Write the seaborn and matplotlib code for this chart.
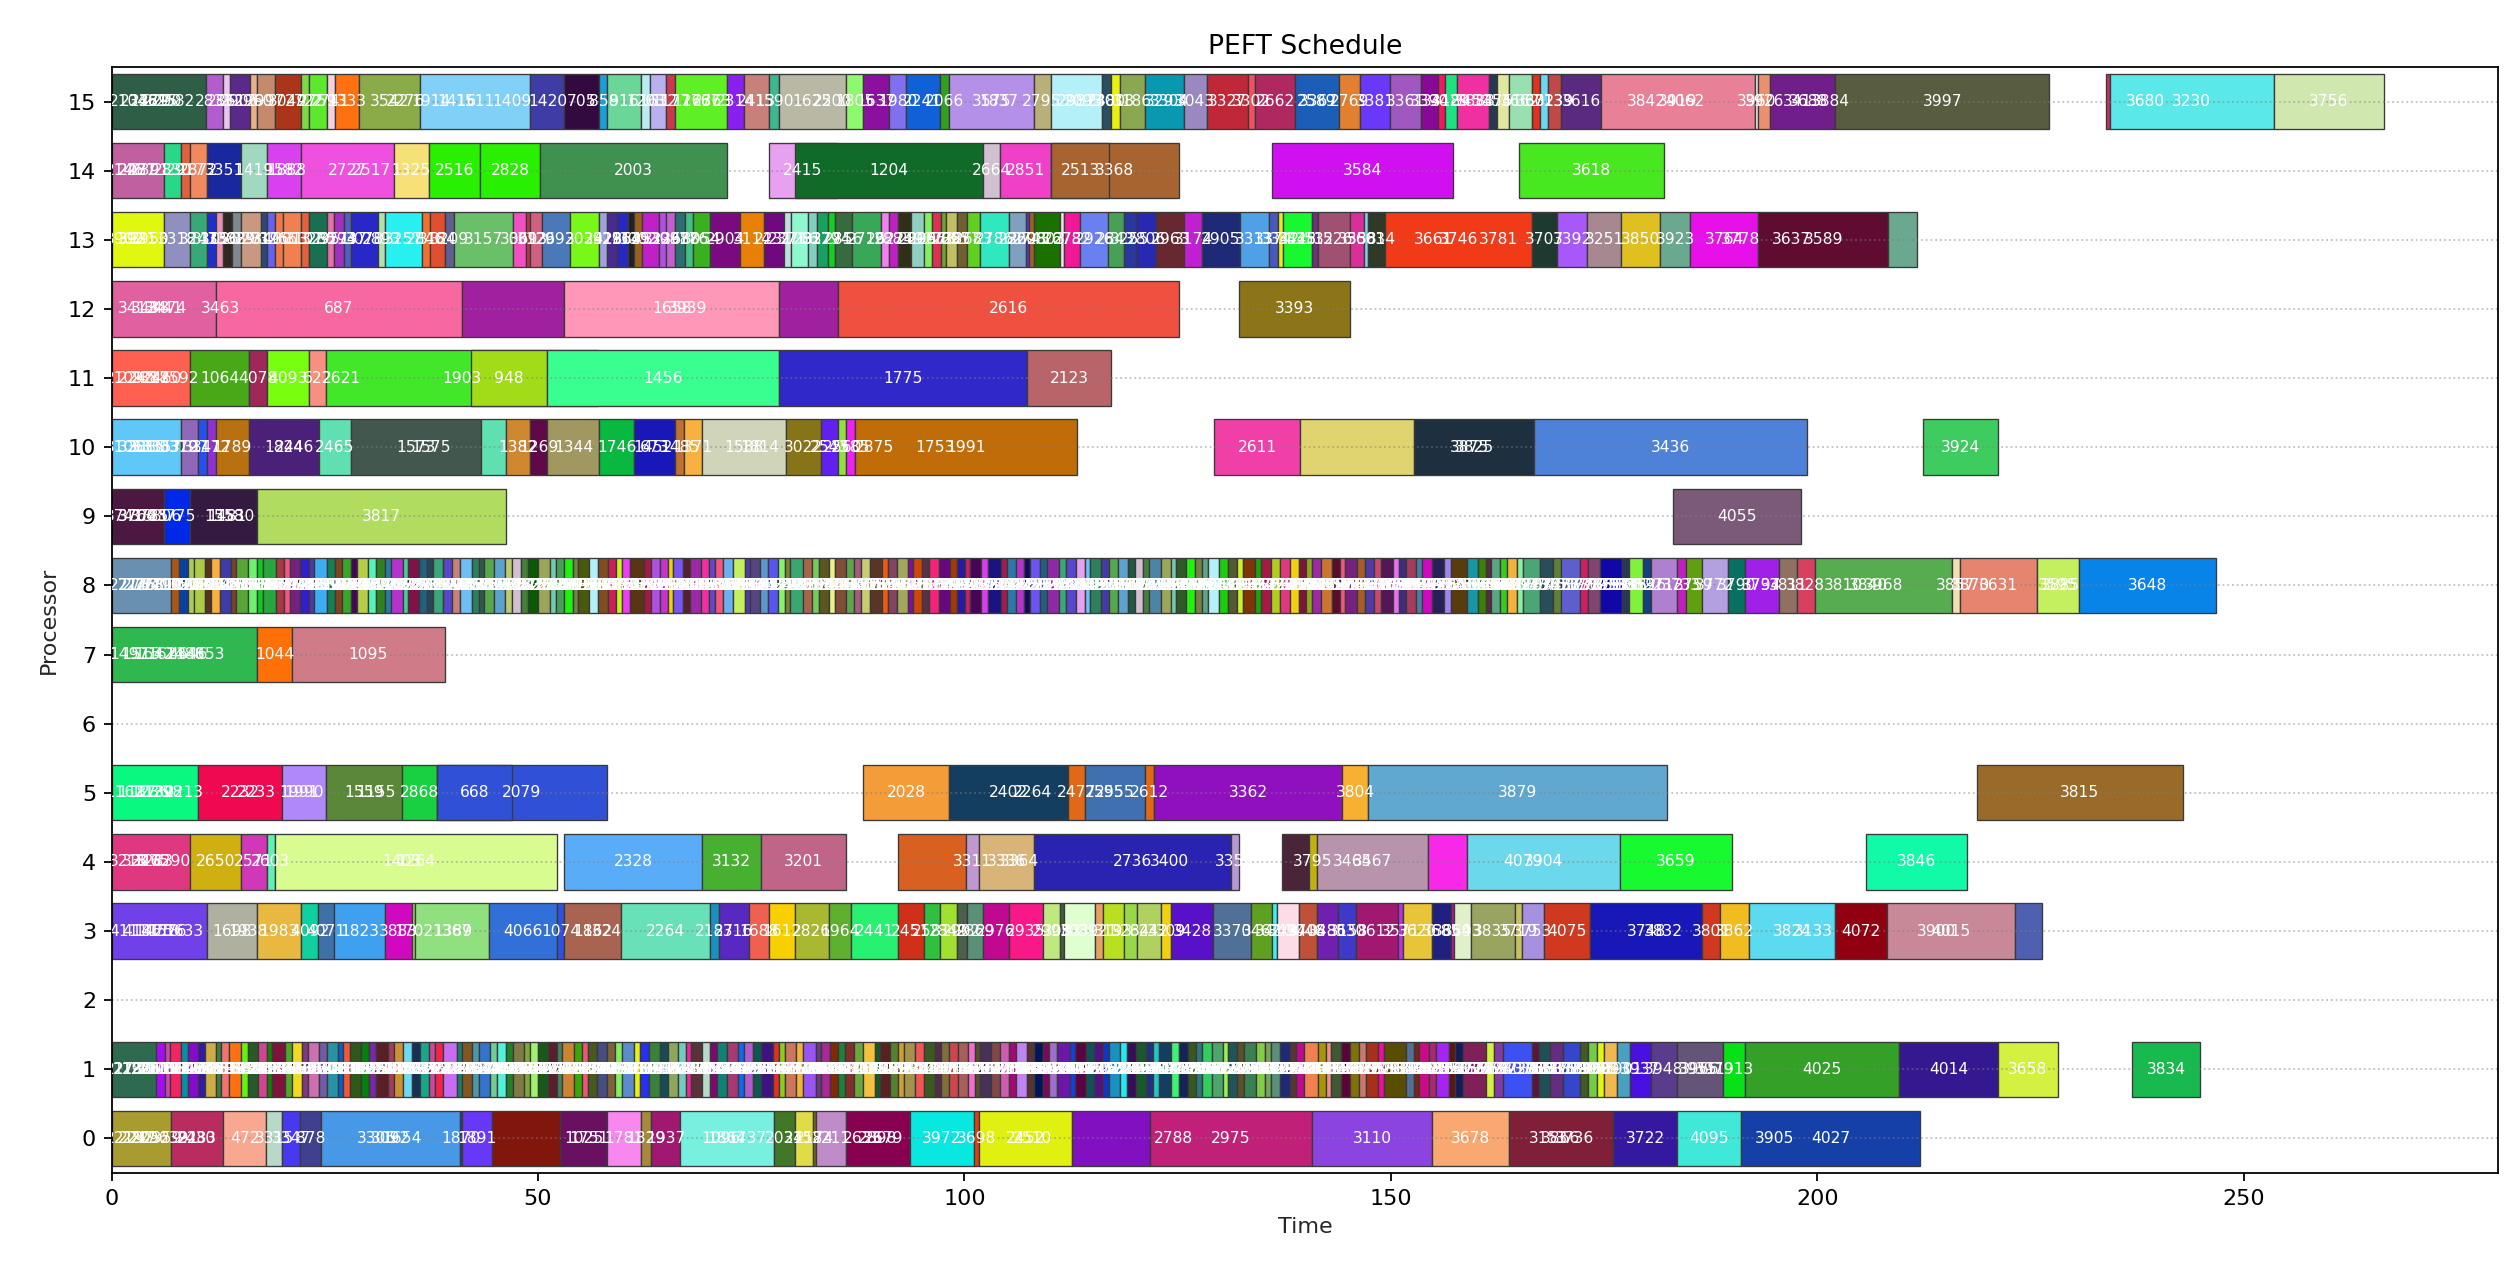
import colorsys

import numpy as np
import seaborn as sns
import matplotlib
matplotlib.use("Agg")
import matplotlib.pyplot as plt

sns.set_style("ticks", {"axes.edgecolor": "black", "xtick.color": "black",
                        "ytick.color": "black", "text.color": "black"})

# ---- schedule data: (task id, start, finish); zero length = label only,
#      ids starting with "_" are drawn without a label ----
P15 = [("2615", 0, 11.1), ("2833", 11.1, 13.1), ("2861", 13.1, 13.9), ("2906", 13.9, 16.2),
       ("2960", 16.2, 17.1), ("2997", 17.1, 19.1), ("3049", 19.1, 22.2), ("2722", 22.2, 23.1),
       ("2759", 23.1, 25.2), ("2741", 25.2, 26.2), ("1333", 26.2, 29.0), ("3542", 29.0, 36.1),
       ("1511", 36.1, 49.1), ("1420", 49.1, 53.1), ("705", 53.1, 57.2), ("858", 57.2, 58.1),
       ("916", 58.1, 62.1), ("1203", 62.1, 63.1), ("1632", 63.1, 65.0), ("1177", 65.0, 66.1),
       ("1767", 66.1, 72.2), ("2314", 72.2, 74.2), ("2413", 74.2, 77.1), ("1590", 77.1, 78.2),
       ("1625", 78.2, 86.1), ("1805", 86.1, 88.1), ("1637", 88.1, 91.2), ("1980", 91.2, 93.1),
       ("2241", 93.1, 97.1), ("2066", 97.1, 98.2), ("3575", 98.2, 108.1), ("2795", 108.1, 110.1),
       ("2987", 110.1, 116.1), ("2480", 116.1, 117.2), ("3018", 117.2, 118.2), ("3186", 118.2, 121.2),
       ("3293", 121.2, 125.8), ("3043", 125.8, 128.4), ("3327", 128.4, 133.2), ("3302", 133.2, 134.1),
       ("2662", 134.1, 138.8), ("2589", 138.8, 143.9), ("2769", 143.9, 146.4), ("3381", 146.4, 149.9),
       ("3361", 149.9, 153.5), ("3390", 153.5, 155.5), ("3418", 155.5, 156.4), ("3429", 156.4, 157.7),
       ("3451", 157.7, 161.5), ("3475", 161.5, 162.5), ("3541", 162.5, 163.8), ("3662", 163.8, 166.5),
       ("3602", 166.5, 167.5), ("3713", 167.5, 168.4), ("3139", 168.4, 170.0), ("3616", 170.0, 174.6),
       ("3919", 174.6, 192.7), ("3960", 192.7, 193.1), ("3926", 193.1, 194.5), ("3413", 194.5, 202.1),
       ("3997", 202.1, 227.2), ("_3660", 233.8, 234.3), ("3230", 234.3, 253.5), ("3756", 253.5, 266.5),
       ("2104", 2.0, 2.0), ("2338", 3.2, 3.2), ("2479", 4.5, 4.5), ("2290", 6.0, 6.0), ("2582", 7.5, 7.5),
       ("2276", 34.5, 34.5), ("1914", 37.5, 37.5), ("1416", 40.5, 40.5), ("1409", 47.0, 47.0),
       ("1267", 68.0, 68.0), ("2363", 70.5, 70.5), ("2200", 84.5, 84.5), ("1837", 104.0, 104.0),
       ("2093", 114.0, 114.0), ("3304", 124.0, 124.0), ("3367", 141.5, 141.5), ("3383", 160.0, 160.0),
       ("3842", 180.0, 180.0), ("4062", 184.5, 184.5), ("3688", 199.0, 199.0), ("3884", 201.5, 201.5),
       ("3680", 238.5, 238.5)]

P14 = [("2471", 0, 6.1), ("2830", 6.1, 8.1), ("2917", 8.1, 9.2), ("2872", 9.2, 11.2),
       ("3351", 11.2, 15.2), ("1419", 15.2, 18.2), ("1582", 18.2, 22.2), ("2727", 22.2, 33.1),
       ("1325", 33.1, 37.2), ("2516", 37.2, 43.2), ("2828", 43.2, 50.2), ("2003", 50.2, 72.2),
       ("2415", 77.1, 85.0), ("1204", 80.1, 102.2), ("2664", 102.2, 104.2), ("2851", 104.2, 110.1),
       ("3368", 110.1, 125.1), ("2513", 110.1, 117.0), ("3584", 136.1, 157.3), ("3618", 165.0, 182.0),
       ("2146", 1.5, 1.5), ("2287", 3.0, 3.0), ("2391", 4.5, 4.5), ("1888", 20.5, 20.5),
       ("2517", 30.5, 30.5)]

P13_EDGES = [0, 6.1, 9.2, 11.2, 12.2, 13.1, 14.1, 15.2, 17.5, 18.2,
             19.1, 20.1, 22.2, 23.1, 25.2, 26.1, 27.2, 28.1, 31.2, 32.1,
             36.4, 37.3, 39.1, 40.1, 47.1, 48.6, 49.1, 50.5, 53.7, 57.2,
             58.1, 59.3, 60.6, 61.3, 62.2, 64.2, 65.0, 66.1, 67.2, 68.2,
             70.2, 73.7, 76.5, 78.8, 79.7, 81.6, 82.7, 84.0, 84.8, 86.8,
             90.2, 91.2, 92.2, 93.7, 95.2, 96.2, 97.3, 97.8, 99.1, 100.3,
             101.8, 105.2, 107.2, 107.6, 108.1, 111.2, 111.7, 113.6, 116.8, 118.7,
             120.1, 122.5, 125.8, 127.8, 132.3, 135.7, 136.8, 137.4, 140.8, 141.4,
             145.2, 146.9, 147.3, 149.3, 166.5, 169.5, 173.0, 177.0, 181.6]
P13_IDS = ["3921", "3318", "3247", "3102", "3156", "3388", "3029", "3271", "3340", "3195",
           "3266", "3013", "3107", "3285", "2951", "3173", "2947", "3078", "2893", "3257",
           "2846", "3184", "3209", "3157", "3061", "3093", "3126", "2992", "3034", "2918",
           "3216", "2964", "3145", "3002", "2939", "3236", "3087", "2988", "3176", "3054",
           "2904", "3114", "2231", "2371", "2766", "2812", "3377", "2794", "2856", "2716",
           "2922", "2883", "2749", "2809", "2957", "2663", "2738", "2895", "2577", "2683",
           "2786", "2820", "2698", "2743", "2803", "2678", "2732", "2926", "2843", "3255",
           "2806", "2963", "3174", "2905", "3313", "3374", "3342", "3425", "3512", "3526",
           "3558", "3603", "3614", "3746", "3707", "3392", "3251", "3850"]
P13_TAIL = [("3923", 181.6, 185.1), ("3764", 185.1, 193.1), ("3589", 193.1, 208.3),
            ("_3944", 208.3, 211.7),
            ("3902", 1.5, 1.5), ("3931", 3.0, 3.0), ("3950", 4.5, 4.5), ("3348", 139.0, 139.0),
            ("3661", 155.0, 155.0), ("3781", 162.6, 162.6), ("3778", 191.0, 191.0),
            ("3637", 197.0, 197.0)]

P12 = [("3441", 0, 12.2), ("687", 12.2, 41.1), ("_1613", 41.1, 53.1), ("1658", 53.1, 78.2),
       ("_1613b", 78.2, 85.2), ("2616", 85.2, 125.1), ("3393", 132.2, 145.2),
       ("3412", 3.0, 3.0), ("3438", 4.5, 4.5), ("3474", 6.5, 6.5), ("3463", 12.8, 12.8),
       ("3939", 67.5, 67.5)]

P11 = [("2387", 0, 9.2), ("1064", 9.2, 16.1), ("4078", 16.1, 18.2), ("4093", 18.2, 23.1),
       ("622", 23.1, 25.1), ("1903", 25.1, 57.0), ("948", 42.1, 51.1), ("1456", 51.1, 78.2),
       ("1775", 78.2, 107.3), ("2123", 107.3, 117.2),
       ("2109", 1.5, 1.5), ("2245", 3.0, 3.0), ("2318", 4.5, 4.5), ("2460", 6.0, 6.0),
       ("2592", 8.0, 8.0), ("2621", 27.0, 27.0)]

P10 = [("3015", 0, 8.1), ("3127", 8.1, 10.1), ("3141", 10.1, 11.2), ("3172", 11.2, 12.2),
       ("1789", 12.2, 16.1), ("1824", 16.1, 24.3), ("2465", 24.3, 28.1), ("1573", 28.1, 43.3),
       ("_2465", 43.3, 46.2), ("1382", 46.2, 49.1), ("1269", 49.1, 51.1), ("1344", 51.1, 57.2),
       ("1746", 57.2, 61.2), ("673", 61.2, 66.1), ("1485", 66.1, 67.1), ("1371", 67.1, 69.2),
       ("1588", 69.2, 79.1), ("3022", 79.1, 83.2), ("2543", 83.2, 85.2), ("2560", 85.2, 86.1),
       ("2585", 86.1, 87.2), ("1991", 87.2, 113.2), ("2611", 129.3, 139.3), ("_3720", 139.3, 152.7),
       ("3825", 152.7, 166.8), ("3436", 166.8, 198.8), ("3924", 212.4, 221.2),
       ("3106", 1.5, 1.5), ("3288", 3.0, 3.0), ("3330", 4.5, 4.5), ("3357", 6.0, 6.0),
       ("3379", 8.0, 8.0), ("2446", 21.5, 21.5), ("1575", 37.5, 37.5), ("1452", 63.5, 63.5),
       ("1814", 76.0, 76.0), ("2875", 89.5, 89.5), ("1753", 96.5, 96.5), ("3875", 159.2, 159.2)]

P9 = [("3704", 0, 6.1), ("3775", 6.1, 9.2), ("1558", 9.2, 17.1), ("3817", 17.1, 46.2),
      ("4055", 183.1, 198.1),
      ("3741", 1.5, 1.5), ("3760", 3.0, 3.0), ("3785", 4.5, 4.5), ("3806", 6.0, 6.0),
      ("1481", 13.5, 13.5), ("1530", 14.5, 14.5)]

P8_HEAD = [("2734", 0, 7.0), ("2712", 2.0, 2.0), ("2745", 3.0, 3.0), ("2768", 4.0, 4.0),
           ("2781", 5.0, 5.0), ("2799", 6.0, 6.0)]
P8_SLIVER_START = 7.0
P8_SLIVER_DUR = [0.9, 1.1, 0.7, 1.2, 0.8, 1.0, 1.3, 0.6, 1.4, 1.0,
                 0.8, 1.5, 0.9, 0.7, 1.2, 1.0, 0.6, 1.6, 0.9, 0.8,
                 1.1, 0.7, 1.3, 0.9, 1.0, 0.8, 1.4, 0.6, 1.2, 1.0,
                 0.7, 1.2, 1.0, 0.9, 1.5, 0.8, 0.6, 1.1, 1.3, 0.9,
                 1.0, 0.8, 1.2, 1.4, 0.7, 0.9, 1.1, 0.6, 1.3, 1.0,
                 1.2, 0.9, 0.7, 1.0, 1.6, 0.8, 1.1, 0.9, 0.6, 1.2,
                 0.8, 1.3, 1.0, 0.7, 0.9, 1.2, 1.4, 0.6, 1.1, 1.0,
                 1.1, 0.9, 0.6, 1.5, 1.0, 0.8, 1.2, 0.7, 1.3, 0.9,
                 0.9, 1.0, 1.4, 0.7, 1.1, 1.3, 0.6, 1.0, 0.8, 1.2,
                 1.3, 0.8, 1.0, 0.6, 1.2, 0.9, 1.5, 0.7, 1.0, 1.0,
                 0.7, 1.1, 0.9, 1.4, 0.8, 1.2, 1.0, 0.6, 1.3, 1.0,
                 1.0, 1.2, 0.8, 0.9, 0.7, 1.5, 1.1, 0.6, 1.2, 1.0,
                 0.9, 0.6, 1.3, 1.1, 1.0, 0.8, 1.4, 0.7, 1.2, 1.0,
                 1.2, 1.0, 0.8, 0.7, 1.1, 1.3, 0.9, 0.6, 1.4, 1.0,
                 1.0, 0.8, 1.5, 0.6, 0.9, 1.2, 0.7, 1.1, 1.4, 0.8,
                 1.9, 1.3, 0.9, 0.6, 1.1, 0.8, 1.2, 0.7, 2.0, 1.5,
                 1.0, 2.2, 0.9, 1.4, 2.6, 0.8, 1.7, 0.9]
P8_SLIVER_IDS = """
1102 1187 1243 1298 1335 1371 1420 1466 1502 1549 1583 1617 1652 1694 1731 1768 1802 1839 1876 1911
1947 1985 2018 2054 2091 2127 2163 2198 2236 2271 2305 2342 2378 2413 2449 2486 2520 2557 2593 2628
2664 2701 2735 2772 2808 2843 2879 2916 2950 2987 3021 3058 3094 3129 3165 3202 3236 3273 3309 3344
3380 3417 3451 3488 3524 3559 3595 3632 3666 3703 1124 1159 1196 1232 1267 1303 1340 1374 1411 1447
1482 1518 1555 1589 1626 1662 1697 1733 1770 1804 1841 1877 1912 1948 1985 2019 2056 2092 2127 2163
2200 2234 2271 2307 2342 2378 2415 2449 2486 2522 2557 2593 2630 2664 2701 2737 2772 2808 2845 2879
2916 2952 2987 3023 3060 3094 3131 3167 3202 3238 3275 3309 3346 3382 3417 3453 3490 3524 3561 3597
3632 3668 3705 3739 3776 3812 3847 3883 3920 3954 3610 3622 3641 3655 3672 3688 3699 3714 3727 3745
3751 3763 3778 3786 3797 3805 3819 3826 3838 3849
""".split()
# zero-length tasks that sit at the start of each sliver
P8_ZERO_IDS = """
1109 1151 1208 1254 1316 1352 1398 1437 1488 1531 1566 1604 1639 1677 1712 1749 1785 1821 1858 1894
1929 1966 2003 2037 2074 2110 2145 2181 2217 2253 2289 2324 2360 2396 2431 2468 2503 2539 2575 2611
2646 2682 2718 2754 2790 2826 2861 2897 2933 2969 3004 3040 3076 3112 3147 3183 3219 3255 3291 3327
3362 3398 3434 3470 3506 3541 3577 3613 3649 3685 1141 1177 1213 1249 1285 1321 1357 1392 1428 1464
1500 1536 1572 1608 1644 1680 1715 1751 1787 1823 1859 1895 1930 1966 2002 2038 2074 2109 2145 2181
2217 2253 2289 2324 2360 2396 2432 2468 2503 2539 2575 2611 2647 2683 2718 2754 2790 2826 2862 2897
2933 2969 3005 3041 3077 3112 3148 3184 3220 3256 3291 3327 3363 3399 3435 3470 3506 3542 3578 3614
3650 3685 3721 3757 3793 3829 3864 3900 3936 3972 3605 3617 3633 3648 3664 3680 3693 3707 3720 3736
3748 3757 3770 3782 3791 3801 3815 3822 3833 3844
""".split()
P8_TAIL = [("3712", 180.5, 183.6), ("3733", 183.6, 184.6), ("3759", 184.6, 186.5),
           ("3772", 186.5, 189.5), ("3790", 189.5, 191.5), ("3794", 191.5, 195.5),
           ("3811", 195.5, 197.6), ("3828", 197.6, 199.7), ("3968", 199.7, 215.8),
           ("3857", 215.8, 216.7), ("3631", 216.7, 225.8), ("3595", 225.8, 230.7),
           ("3648", 230.7, 246.8),
           ("3737", 193.5, 193.5), ("3810", 203.0, 203.0), ("3840", 206.0, 206.0),
           ("3870", 218.0, 218.0), ("3885", 228.5, 228.5)]

P7 = [("1488", 0, 17.1), ("1044", 17.1, 21.1), ("1095", 21.1, 39.1),
      ("1497", 2.0, 2.0), ("1515", 3.5, 3.5), ("1542", 5.0, 5.0), ("1623", 6.5, 6.5),
      ("4646", 9.0, 9.0), ("4653", 11.0, 11.0)]

P6 = []

P5 = [("1130", 0, 10.1), ("2232", 10.1, 20.0), ("1990", 20.0, 25.1), ("1559", 25.1, 34.1),
      ("2868", 34.1, 38.1), ("2079", 38.1, 58.1), ("668", 38.1, 47.0), ("2028", 88.1, 98.2),
      ("2402", 98.2, 112.1), ("2477", 112.1, 114.1), ("2555", 114.1, 121.2), ("2612", 121.2, 122.2),
      ("3362", 122.2, 144.3), ("3804", 144.3, 147.3), ("3879", 147.3, 182.4), ("3815", 218.7, 242.9),
      ("1162", 1.5, 1.5), ("1187", 3.0, 3.0), ("1236", 4.5, 4.5), ("1298", 6.0, 6.0),
      ("2213", 8.5, 8.5), ("2233", 17.0, 17.0), ("1991", 22.0, 22.0), ("1155", 31.0, 31.0),
      ("2264", 108.0, 108.0), ("2595", 116.5, 116.5)]

P4 = [("3275", 0, 9.2), ("2650", 9.2, 15.2), ("2571", 15.2, 18.2), ("2603", 18.2, 19.1),
      ("1264", 19.1, 52.2), ("2328", 53.1, 69.2), ("3132", 69.2, 76.2), ("3201", 76.2, 86.1),
      ("_3297", 92.2, 100.2), ("3311", 100.2, 101.7), ("3336", 101.7, 108.1), ("2736", 108.1, 131.2),
      ("3352", 131.2, 132.2), ("_3780", 137.2, 140.4), ("3795", 140.4, 141.3), ("3467", 141.3, 154.3),
      ("_3871", 154.3, 158.9), ("3904", 158.9, 176.9), ("3659", 176.9, 190.0), ("3846", 205.7, 217.6),
      ("3218", 2.0, 2.0), ("3246", 3.5, 3.5), ("3283", 5.0, 5.0), ("3290", 7.0, 7.0),
      ("1403", 34.0, 34.0), ("3364", 106.5, 106.5), ("3400", 124.0, 124.0),
      ("3465", 145.5, 145.5), ("4079", 165.5, 165.5)]

P3_EDGES = [0, 11.2, 17.1, 22.2, 24.2, 26.1, 32.1, 35.2, 35.6, 44.2,
            52.2, 53.1, 59.7, 70.2, 71.2, 74.7, 77.1, 80.1, 84.1, 86.7,
            92.2, 95.2, 97.1, 99.1, 100.3, 102.2, 105.2, 109.2, 111.2, 111.7,
            115.3, 116.2, 118.7, 120.2, 123.1, 124.2, 129.2, 133.6, 136.1, 136.7,
            139.2, 141.3, 143.8, 145.9, 150.8, 151.4, 154.8, 157.1, 157.4, 159.4,
            164.5, 165.4, 167.9, 173.4, 186.5, 188.6, 192.0, 202.1, 208.2]
P3_IDS = ["4118", "1698", "1983", "4092", "4071", "1823", "3883", "1702", "1367", "4066",
          "1074", "1862", "2264", "2187", "2316", "1688", "1612", "2826", "1964", "2441",
          "2451", "2581", "2849", "2902", "2869", "2976", "2935", "2995", "3083", "3039",
          "3121", "3193", "3264", "3242", "3309", "3428", "3370", "3462", "3410", "3497",
          "3408", "3486", "3530", "3612", "3571", "3620", "3685", "3654", "3693", "3835",
          "3719", "3753", "4075", "3748", "3801", "3862", "3824", "4072"]
P3_TAIL = [("4015", 208.2, 223.2), ("_4101", 223.2, 226.3),
           ("4111", 2.0, 2.0), ("4136", 3.5, 3.5), ("1425", 5.0, 5.0), ("1576", 6.5, 6.5),
           ("1633", 8.5, 8.5), ("1938", 16.0, 16.0), ("1389", 40.0, 40.0), ("1324", 57.5, 57.5),
           ("3046", 140.0, 140.0), ("3158", 145.0, 145.0), ("3832", 182.0, 182.0),
           ("3133", 199.5, 199.5), ("3900", 214.0, 214.0)]

P2 = []

P1_HEAD = [("2188", 0, 5.2), ("2173", 1.5, 1.5), ("2190", 2.5, 2.5), ("2226", 3.5, 3.5),
           ("2251", 4.5, 4.5)]
P1_SLIVER_START = 5.2
P1_SLIVER_DUR = [1.0, 0.7, 1.2, 0.9, 1.1, 0.8, 1.3, 0.6, 1.0, 1.4,
                 0.8, 1.2, 1.0, 0.6, 1.5, 0.9, 1.1, 0.7, 1.3, 0.9,
                 1.3, 0.6, 0.9, 1.2, 1.0, 0.8, 1.4, 0.7, 1.1, 1.0,
                 0.9, 1.1, 0.7, 1.0, 1.6, 0.6, 1.2, 0.8, 1.3, 0.8,
                 1.1, 0.8, 1.3, 0.7, 0.9, 1.2, 1.0, 0.6, 1.4, 1.0,
                 0.7, 1.0, 1.2, 0.9, 0.8, 1.5, 0.6, 1.1, 1.3, 0.9,
                 1.2, 0.9, 0.6, 1.3, 1.0, 0.8, 1.1, 1.4, 0.7, 1.0,
                 1.0, 1.3, 0.8, 0.7, 1.2, 0.9, 1.5, 0.6, 1.0, 1.0,
                 0.8, 1.1, 1.0, 1.4, 0.6, 1.2, 0.9, 0.7, 1.3, 1.0,
                 1.4, 0.7, 0.9, 1.0, 1.2, 0.8, 0.6, 1.3, 1.1, 1.0,
                 0.9, 1.2, 0.8, 1.1, 0.7, 1.0, 1.5, 0.6, 1.2, 1.0,
                 1.1, 0.6, 1.3, 0.9, 1.0, 1.2, 0.8, 0.7, 1.4, 1.0,
                 1.0, 0.9, 0.7, 1.2, 1.3, 0.6, 1.1, 0.8, 1.4, 1.0,
                 0.8, 1.0, 1.2, 0.7, 0.9, 1.6, 1.0, 0.6, 1.1, 1.1,
                 1.1, 0.8, 1.4, 0.7, 2.6, 0.9, 0.6, 1.2, 0.8, 1.5,
                 0.7, 1.0, 2.7, 0.9, 1.1, 3.4, 0.8, 1.2, 1.6, 2.0,
                 0.9, 1.1, 0.8]
P1_SLIVER_IDS = """
1019 1058 1084 1127 1163 1192 1238 1261 1309 1333 1379 1405 1448 1481 1516 1557 1594 1621 1668 1692
1737 1763 1809 1845 1871 1917 1940 1982 2013 2059 2085 2122 2168 2194 2239 2266 2301 2347 2373 2418
2444 2481 2526 2552 2599 2625 2660 2706 2733 2777 2804 2840 2886 2911 2957 2983 3018 3064 3091 3135
3162 3198 3244 3270 3315 3341 3376 3422 3449 3493 3520 3556 3602 3628 3673 3699 3734 3781 3807 3851
1041 1076 1112 1149 1185 1220 1256 1293 1327 1364 1400 1435 1471 1508 1542 1579 1615 1650 1686 1723
1757 1794 1830 1865 1901 1938 1972 2009 2045 2080 2116 2153 2187 2224 2260 2295 2331 2368 2402 2439
2475 2510 2546 2583 2617 2654 2690 2725 2761 2798 2832 2869 2905 2940 2976 3013 3047 3084 3120 3155
3191 3228 3262 3299 3335 3370 3406 3443 3477 3514 3550 3585 3621 3658 3692 3729 3765 3800 3836 3873
3895 3908 3921 3934 3947 3959 3971 3984 3996 4008
""".split()
P1_ZERO_IDS = """
1028 1066 1097 1139 1171 1207 1245 1279 1316 1352 1388 1421 1459 1494 1530 1566 1603 1639 1675 1710
1746 1781 1818 1853 1889 1925 1961 1996 2032 2068 2103 2139 2175 2211 2246 2282 2318 2354 2389 2425
2461 2497 2532 2568 2604 2640 2675 2711 2747 2783 2818 2854 2890 2926 2961 2997 3033 3069 3104 3140
3176 3212 3247 3283 3319 3355 3390 3426 3462 3498 3533 3569 3605 3641 3676 3712 3748 3784 3819 3855
1048 1084 1120 1156 1191 1227 1263 1299 1334 1370 1406 1442 1477 1513 1549 1585 1620 1656 1692 1728
1763 1799 1835 1871 1906 1942 1978 2014 2049 2085 2121 2157 2192 2228 2264 2300 2335 2371 2407 2443
2478 2514 2550 2586 2621 2657 2693 2729 2764 2800 2836 2872 2907 2943 2979 3015 3050 3086 3122 3158
3193 3229 3265 3301 3336 3372 3408 3444 3479 3515 3551 3587 3622 3658 3694 3730 3765 3801 3837 3873
3890 3903 3916 3929 3942 3954 3966 3979 3991 4003
""".split()
P1_TAIL = [("3893", 175.0, 176.5), ("3901", 176.5, 178.0), ("3937", 178.0, 180.5),
           ("3948", 180.5, 183.5), ("3966", 183.5, 189.0), ("1913", 189.0, 191.5),
           ("4025", 191.5, 209.6), ("4014", 209.6, 221.2), ("3658", 221.2, 228.2),
           ("3834", 236.9, 244.9),
           ("3955", 186.0, 186.0), ("3979", 188.0, 188.0)]

P0 = [("2205", 0, 7.0), ("2283", 7.0, 13.1), ("472", 13.1, 18.1), ("3315", 18.1, 20.0),
      ("3347", 20.0, 22.1), ("878", 22.1, 24.6), ("3092", 24.6, 40.8), ("1870", 40.8, 41.1),
      ("1891", 41.1, 44.6), ("_1904", 44.6, 52.6), ("1025", 52.6, 58.1), ("1781", 58.1, 62.1),
      ("1829", 62.1, 63.2), ("1937", 63.2, 66.7), ("1864", 66.7, 77.7), ("2034", 77.7, 80.1),
      ("2158", 80.1, 82.2), ("2174", 82.2, 82.6), ("2211", 82.6, 86.1), ("2898", 86.1, 93.6),
      ("3972", 93.6, 101.1), ("3698", 101.1, 101.7), ("2452", 101.7, 112.6), ("_2711", 112.6, 121.7),
      ("2975", 121.7, 140.8), ("3110", 140.8, 154.8), ("3678", 154.8, 163.8), ("3866", 163.8, 176.0),
      ("3722", 176.0, 183.6), ("4095", 183.6, 191.0), ("4027", 191.0, 212.1),
      ("2219", 1.5, 1.5), ("2247", 3.0, 3.0), ("2296", 4.5, 4.5), ("2359", 6.0, 6.0),
      ("2391", 8.0, 8.0), ("2430", 10.0, 10.0), ("3306", 31.0, 31.0), ("1654", 34.0, 34.0),
      ("1751", 56.0, 56.0), ("1096", 71.5, 71.5), ("1737", 74.5, 74.5), ("2633", 88.0, 88.0),
      ("2679", 90.5, 90.5), ("2510", 108.0, 108.0), ("2788", 124.5, 124.5),
      ("3153", 168.5, 168.5), ("3736", 171.5, 171.5), ("3905", 195.0, 195.0)]

# ---- colours (style, kept apart from the data) ----
P13_COLORS = ["#e0f810", "#9090c0", "#38a878", "#2030d0", "#e890b8", "#302820", "#808890", "#c89880",
              "#2a4a7a", "#6a60f0", "#f07848", "#f08050", "#e06040", "#187050", "#e870a8", "#a030c0",
              "#5060c0", "#2828c8", "#b0e0b0", "#28f0f0", "#f07030", "#e05030", "#606090", "#6ac068",
              "#f050c0", "#c03050", "#d06080", "#4a78b8", "#78f818", "#a0a0e0", "#4a2a90", "#2828c0",
              "#202020", "#9a6020", "#c020c8", "#b050e0", "#c060d0", "#2a7070", "#40c080", "#38b020",
              "#7a0a80", "#e88008", "#700880", "#c0e0e0", "#90f8d0", "#80d0c0", "#18a060", "#10d020",
              "#386a40", "#38a858", "#f080f0", "#c020c0", "#303018", "#90d0c0", "#80f060", "#e03050",
              "#70a030", "#c0c060", "#706030", "#60d020", "#30e8c0", "#80a0c0", "#6030e0", "#a06020",
              "#1a7000", "#e8e8e8", "#f01898", "#6a80f0", "#48a058", "#2838a0", "#2828b0", "#682830",
              "#c020d0", "#1e2a78", "#50a0e8", "#4858c0", "#e0f010", "#18f830", "#703080", "#a05070",
              "#d83098", "#80d0f0", "#303828", "#f03a18", "#1e3a30", "#a858f8", "#a88890", "#e0c020"]
P3_COLORS = ["#7040e8", "#b0b0a0", "#e8b840", "#10d0a0", "#4070a8", "#40a0f0", "#d008c0", "#a0d060",
             "#90e080", "#3070d8", "#3050e0", "#a86450", "#68e0b8", "#1890c0", "#5828c0", "#f06050",
             "#f8d000", "#a8b830", "#60b030", "#28f070", "#d03018", "#30c040", "#a0e030", "#4a6048",
             "#5a9078", "#c00890", "#f81888", "#c0e880", "#406040", "#e0ffd0", "#e8a060", "#b8e020",
             "#98d848", "#b0d060", "#f0d010", "#5810c8", "#507098", "#60a020", "#40f0f0", "#fcdce6",
             "#c05038", "#7020b0", "#4038c8", "#a01870", "#c030e0", "#e8c438", "#202080", "#c010a0",
             "#e0f0c8", "#98a460", "#c8c060", "#a890e0", "#d03820", "#1818b8", "#d03820", "#f0bc20",
             "#5cdaf0", "#900010"]
COLORS = {
    "2615": "#2f5e47", "2833": "#b25ccf", "2861": "#e8c6f0", "2906": "#5a2a8a", "2960": "#e8b08a",
    "2997": "#c58a6b", "3049": "#ab3518", "2722": "#7fd945", "2759": "#5ce82d", "2741": "#f5d0e0",
    "1333": "#ff7010", "3542": "#8aab48", "1511": "#80d0f8", "1420": "#3f3ca5", "705": "#330a40",
    "858": "#1a9ed8", "916": "#6ad698", "1203": "#b8ecf0", "1632": "#b9b0f0", "1177": "#c83a4a",
    "1767": "#5ef024", "2314": "#8a20f0", "2413": "#c8807a", "1590": "#3cb890", "1625": "#b8b8a4",
    "1805": "#8ef870", "1637": "#8a10a0", "1980": "#8070f0", "2241": "#1060d8", "2066": "#30a020",
    "3575": "#b490e8", "2795": "#b8b078", "2987": "#b4f0f8", "2480": "#2a5060", "3018": "#e8f010",
    "3186": "#8aa850", "3293": "#0898b0", "3043": "#9a88c0", "3327": "#c02838", "3302": "#f05060",
    "2662": "#b02860", "2589": "#1a5eb8", "2769": "#e08030", "3381": "#6a38f8", "3361": "#a058c0",
    "3390": "#880898", "3418": "#f01860", "3429": "#20e080", "3451": "#f030a0", "3475": "#283850",
    "3541": "#e0e8a0", "3662": "#98e0b0", "3602": "#e03020", "3713": "#6ad8f0", "3139": "#c04848",
    "3616": "#5a2a80", "3919": "#e88098", "3960": "#f8f0f0", "3926": "#e89070", "3413": "#701e8a",
    "3997": "#575d3e", "_3660": "#c83060", "3230": "#5ae8e8", "3756": "#d0e8b0",
    "2471": "#c060a0", "2830": "#28d888", "2917": "#e06040", "2872": "#f08860", "3351": "#1a28a0",
    "1419": "#a0d8c0", "1582": "#d840f0", "2727": "#f050e0", "1325": "#f8e078", "2516": "#28f000",
    "2828": "#28f000", "2003": "#409050", "2415": "#e8a0f0", "1204": "#106a28", "2664": "#d0c0d0",
    "2851": "#f040c8", "3368": "#a86430", "2513": "#a86430", "3584": "#d010f0", "3618": "#48e820",
    "3923": "#6aa890", "3764": "#e810e8", "3589": "#600c30", "_3944": "#6aa890",
    "3441": "#e060a0", "687": "#f868a0", "_1613": "#a020a0", "_1613b": "#a020a0", "1658": "#ff98b8",
    "2616": "#f05040", "3393": "#8c7418",
    "2387": "#ff6050", "1064": "#48a818", "4078": "#a02858", "4093": "#78ff10", "622": "#f89080",
    "1903": "#40e828", "948": "#a0dc18", "1456": "#38ff90", "1775": "#3028c8", "2123": "#b86468",
    "3015": "#60c8f8", "3127": "#9068b8", "3141": "#2850f0", "3172": "#9030d0", "1789": "#b87010",
    "1824": "#4a2078", "2465": "#60e0b0", "_2465": "#60e0b0", "1573": "#42584e", "1382": "#d08830",
    "1269": "#600848", "1344": "#a09860", "1746": "#08b840", "673": "#1818b8", "1485": "#c07030",
    "1371": "#f8b040", "1588": "#d0d4b8", "3022": "#887418", "2543": "#6020f0", "2560": "#90e040",
    "2585": "#f020f0", "1991": "#c06c08", "2611": "#f040a8", "_3720": "#e0d470", "3825": "#1e3040",
    "3436": "#4e82d8", "3924": "#3ecc60",
    "3704": "#4a1840", "3775": "#0028e8", "1558": "#341a40", "3817": "#b0dc60", "4055": "#7a5a78",
    "2734": "#6a90b0", "3712": "#b080d0", "3733": "#c020c0", "3759": "#60a010", "3772": "#b4a0e0",
    "3790": "#087060", "3794": "#a020e8", "3811": "#907060", "3828": "#d84060", "3968": "#58ac50",
    "3857": "#f0e0b0", "3631": "#e68470", "3595": "#c4f060", "3648": "#0884e8",
    "1488": "#30b850", "1044": "#ff7008", "1095": "#d07c88",
    "1130": "#08f880", "2232": "#f00850", "1990": "#b088f8", "1559": "#5a8838", "2868": "#18d040",
    "2079": "#3050d8", "668": "#3050d8", "2028": "#f49c38", "2402": "#143e60", "2477": "#e06818",
    "2555": "#4070b0", "2612": "#e06818", "3362": "#9010c0", "3804": "#f8b030", "3879": "#60a8d0",
    "3815": "#9a6a28",
    "3275": "#e03880", "2650": "#d0b010", "2571": "#d038b8", "2603": "#60f0b0", "1264": "#d8fc90",
    "2328": "#58acf8", "3132": "#48b030", "3201": "#c06488", "_3297": "#d86020", "3311": "#c098d0",
    "3336": "#d8b478", "2736": "#2a22b0", "3352": "#b898d0", "_3780": "#4a2438", "3795": "#c0b010",
    "3467": "#b894ac", "_3871": "#f828e8", "3904": "#6cd8ec", "3659": "#18fa30", "3846": "#10faa8",
    "_4101": "#5060b0", "4015": "#c88898",
    "2188": "#2e6a50", "3893": "#f0b850", "3901": "#4aa0c0", "3937": "#4a10e0", "3948": "#5a3c8c",
    "3966": "#645478", "1913": "#08e018", "4025": "#34a028", "4014": "#341890", "3658": "#d4f040",
    "3834": "#18ba50",
    "2205": "#a89c30", "2283": "#b82c60", "472": "#f8a890", "3315": "#b8d8c8", "3347": "#4838f0",
    "878": "#404090", "3092": "#4898e8", "1870": "#2840a0", "_1904": "#80160c", "1891": "#6838f8",
    "1025": "#6a1060", "1781": "#f888f0", "1829": "#a8883a", "1937": "#a01870", "1864": "#78f0e0",
    "2034": "#407828", "2158": "#e0dc48", "2174": "#707010", "2211": "#c08cc8", "2898": "#880050",
    "3972": "#08e8e0", "3698": "#e04010", "2452": "#e0f010", "_2711": "#8010c0", "2975": "#c02078",
    "3110": "#8c44e0", "3678": "#f8a870", "3866": "#802038", "3722": "#3418a0", "4095": "#40e8d8",
    "4027": "#1440a8",
}
COLORS.update(zip(P13_IDS, P13_COLORS))
COLORS.update(zip(P3_IDS, P3_COLORS))


def task_color(tid):
    if tid in COLORS:
        return COLORS[tid]
    k = int(tid)
    h = (k * 0.6180339887) % 1.0
    s = 0.45 + (k % 6) * 0.1
    v = 0.35 + (k % 5) * 0.15
    return colorsys.hsv_to_rgb(h, min(s, 1.0), min(v, 1.0))


def run(ids, edges):
    return [(t, a, b) for t, a, b in zip(ids, edges[:-1], edges[1:])]


def slivers(ids, zero_ids, start, durs):
    out, t = [], start
    for tid, zid, d in zip(ids, zero_ids, durs):
        out.append((tid, t, t + d))
        out.append((zid, t, t))
        t += d
    return out


schedule = {
    15: P15, 14: P14, 13: run(P13_IDS, P13_EDGES) + P13_TAIL, 12: P12, 11: P11, 10: P10, 9: P9,
    8: P8_HEAD + slivers(P8_SLIVER_IDS, P8_ZERO_IDS, P8_SLIVER_START, P8_SLIVER_DUR) + P8_TAIL,
    7: P7, 6: P6, 5: P5, 4: P4, 3: run(P3_IDS, P3_EDGES) + P3_TAIL, 2: P2,
    1: P1_HEAD + slivers(P1_SLIVER_IDS, P1_ZERO_IDS, P1_SLIVER_START, P1_SLIVER_DUR) + P1_TAIL,
    0: P0,
}

fig, ax = plt.subplots(figsize=(15.75, 7.9875), dpi=160)
fig.subplots_adjust(left=0.0443, right=0.9913, bottom=0.0822, top=0.9476)

makespan = 0
for proc in range(16):
    for tid, start, end in schedule[proc]:
        dur = end - start
        if dur > 0:
            ax.barh(proc, dur, left=start, height=0.8, color=task_color(tid),
                    edgecolor="#3a3a3a", linewidth=0.6, zorder=1)
            makespan = max(makespan, end)
        if not tid.startswith("_"):
            ax.text(start + dur / 2, proc, tid, ha="center", va="center",
                    color="white", fontsize=7, zorder=3, clip_on=True)

ax.set_xlim(0, makespan * 1.05)
ax.set_ylim(-0.5, 15.5)
ax.set_yticks(range(16))
ax.grid(axis="y", linestyle=":", color="gray", alpha=0.5, linewidth=0.8, zorder=1.5)
ax.set_axisbelow("line")
ax.set_xlabel("Time")
ax.set_ylabel("Processor")
ax.set_title("PEFT Schedule")

plt.savefig("out.png", dpi=160)
